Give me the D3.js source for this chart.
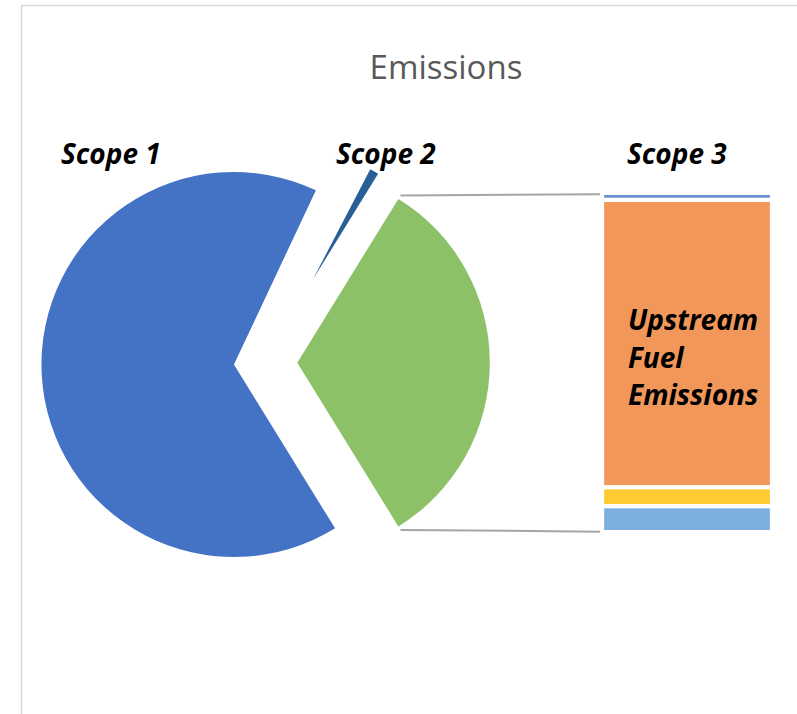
<!DOCTYPE html>
<html>
<head>
<meta charset="utf-8">
<script src="https://cdn.jsdelivr.net/npm/d3@7"></script>
<style>
  html, body { margin: 0; padding: 0; background: #fff; }
  svg { display: block; }
</style>
</head>
<body>
<svg id="chart" width="797" height="714"></svg>
<script>
// Share of total emissions by scope (%)
const pieCategories = ["Scope 1", "Scope 2", "Scope 3"];
const pieValues = [65.8, 1.8, 32.4];
const pieColors = ["#4472c4", "#285f96", "#8cc168"];

// Scope 3 broken down, listed top to bottom of the stacked bar (%)
const barCategories = ["Other Scope 3", "Upstream Fuel Emissions", "Waste", "Business Travel"];
const barValues = [0.67, 27.44, 1.81, 2.48];
const barColors = ["#6a8fd0", "#f1975a", "#ffca33", "#7cafdd"];

const chartTitle = "Emissions";
const barLabel = ["Upstream", "Fuel", "Emissions"];

const svg = d3.select("#chart");
const rad = Math.PI / 180;

// chart frame
svg.append("path")
  .attr("d", "M21.5,714V5.5H797")
  .attr("fill", "none")
  .attr("stroke", "#d9d9d9")
  .attr("stroke-width", 1.5);

// title
svg.append("text")
  .attr("x", 446)
  .attr("y", 78.5)
  .attr("text-anchor", "middle")
  .attr("font-family", "'Open Sans', sans-serif")
  .attr("font-size", 33)
  .attr("fill", "#595959")
  .text(chartTitle);

// ---- pie of bar ----
const cx = 265.6, cy = 362.7, R = 192.5;
const share3 = pieValues[2] / d3.sum(pieValues);
// rotate so the Scope 3 slice faces the bar on the right
const start = Math.PI / 2 + share3 * Math.PI;
const pie = d3.pie().sort(null).startAngle(start).endAngle(start + 2 * Math.PI);
const slices = pie(pieValues);

// per-slice explosion (px), radius and trimmed start
const explode = [31.7, 96, 31.7];
const sliceR = [R, 124, R];
const trim = [0, 2.3 * rad, 0];

const arc = d3.arc().innerRadius(0);

const pieG = svg.append("g").attr("transform", `translate(${cx},${cy})`);
const vertex = slices.map((d, i) => {
  const a0 = d.startAngle + trim[i];
  const mid = (a0 + d.endAngle) / 2;
  return [explode[i] * Math.sin(mid), -explode[i] * Math.cos(mid)];
});

pieG.selectAll("path.slice")
  .data(slices)
  .join("path")
  .attr("class", "slice")
  .attr("transform", (d, i) => `translate(${vertex[i][0]},${vertex[i][1]})`)
  .attr("d", (d, i) => arc.outerRadius(sliceR[i])({
    startAngle: d.startAngle + trim[i],
    endAngle: d.endAngle
  }))
  .attr("fill", (d, i) => pieColors[i]);

// ---- stacked bar for Scope 3 ----
const barX0 = 602, barX1 = 772;
const barTop = 192.85, barBottom = 532.15;
const inset = 2.15;
const y = d3.scaleLinear().domain([0, d3.sum(barValues)]).range([barTop, barBottom]);
const cum = d3.cumsum(barValues);
const segs = barValues.map((v, i) => ({ v, c0: cum[i] - v, c1: cum[i], i }));

svg.append("g").selectAll("rect")
  .data(segs)
  .join("rect")
  .attr("x", barX0 + inset)
  .attr("width", barX1 - barX0 - 2 * inset)
  .attr("y", d => y(d.c0) + inset)
  .attr("height", d => Math.max(0, y(d.c1) - y(d.c0) - 2 * inset))
  .attr("fill", d => barColors[d.i]);

// connector lines from the Scope 3 slice corners to the bar ends
const s3 = slices[2];
const v3 = vertex[2];
const rl = R + 4;
const corner = a => [cx + v3[0] + rl * Math.sin(a), cy + v3[1] - rl * Math.cos(a)];
const lines = [
  [corner(s3.startAngle), [barX0 - 2, y(0) + 1.5]],
  [corner(s3.endAngle), [barX0 - 2, y(d3.sum(barValues)) - 0.5]]
];
svg.append("g").selectAll("line")
  .data(lines)
  .join("line")
  .attr("x1", d => d[0][0]).attr("y1", d => d[0][1])
  .attr("x2", d => d[1][0]).attr("y2", d => d[1][1])
  .attr("stroke", "#a6a6a6")
  .attr("stroke-width", 2);

// data labels
const labelFont = "'Open Sans', sans-serif";
const scopeLabelPos = [[61, 163.5], [336, 163.5], [627, 163.5]];
svg.append("g").selectAll("text")
  .data(pieCategories)
  .join("text")
  .attr("x", (d, i) => scopeLabelPos[i][0])
  .attr("y", (d, i) => scopeLabelPos[i][1])
  .attr("font-family", labelFont)
  .attr("font-size", 28)
  .attr("font-weight", "bold")
  .attr("font-style", "italic")
  .attr("fill", "#000")
  .text(d => d);

const upT = svg.append("text")
  .attr("font-family", labelFont)
  .attr("font-size", 28)
  .attr("font-weight", "bold")
  .attr("font-style", "italic")
  .attr("fill", "#000");
upT.selectAll("tspan")
  .data(barLabel)
  .join("tspan")
  .attr("x", 628)
  .attr("y", (d, i) => 330 + i * 37.5)
  .text(d => d);
</script>
</body>
</html>
